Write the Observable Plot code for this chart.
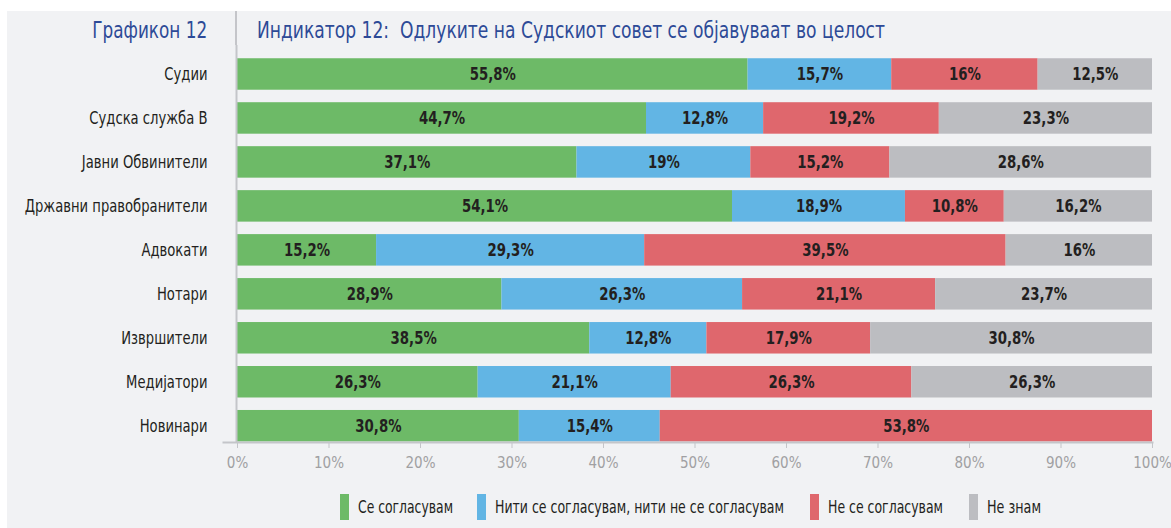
<!DOCTYPE html>
<html>
<head>
<meta charset="utf-8">
<script src="https://cdn.jsdelivr.net/npm/d3@7"></script>
<script src="https://cdn.jsdelivr.net/npm/@observablehq/plot@0.6"></script>
<style>
  html, body { margin: 0; padding: 0; }
  body { width: 1171px; height: 528px; overflow: hidden; position: relative; background: #ffffff;
         font-family: "DejaVu Sans Condensed", "DejaVu Sans", sans-serif; }
  #bg { position: absolute; left: 7px; top: 11px; right: 0; bottom: 0; background: #f1f2f4; }
  #title { position: absolute; left: 0; top: 11px; width: 1171px; height: 34px; color: #2d4a97; font-size: 23px; }
  #title .left { position: absolute; right: 964px; top: 6px; white-space: nowrap; display: inline-block; transform-origin: right center; }
  #title .sep { position: absolute; left: 235px; top: 0; width: 2px; height: 34px; background: #c4c5c9; }
  #title .main { position: absolute; left: 257px; top: 6px; white-space: nowrap; display: inline-block; transform-origin: left center; }
  #chart { position: absolute; left: 0; top: 45px; }
  #legend { position: absolute; left: 0; top: 494px; width: 1171px; height: 26px; font-size: 17px; color: #231f20; }
  #legend .item { position: absolute; top: 0; height: 26px; display: flex; align-items: center; white-space: nowrap; }
  #legend .sw { width: 9px; height: 26px; margin-right: 9px; flex: none; }
  #legend .txt { display: inline-block; transform-origin: left center; }
</style>
</head>
<body>
<div id="bg"></div>
<div id="title">
  <span class="left" id="t1">Графикон 12</span>
  <div class="sep"></div>
  <span class="main" id="t2">Индикатор 12:&nbsp; Одлуките на Судскиот совет се објавуваат во целост</span>
</div>
<div id="chart"></div>
<div id="legend"></div>
<script>
// ---- data ----
const groups = [
  "Судии",
  "Судска служба В",
  "Јавни Обвинители",
  "Државни правобранители",
  "Адвокати",
  "Нотари",
  "Извршители",
  "Медијатори",
  "Новинари"
];
const answers = [
  "Се согласувам",
  "Нити се согласувам, нити не се согласувам",
  "Не се согласувам",
  "Не знам"
];
const agree    = [55.8, 44.7, 37.1, 54.1, 15.2, 28.9, 38.5, 26.3, 30.8];
const neither  = [15.7, 12.8, 19.0, 18.9, 29.3, 26.3, 12.8, 21.1, 15.4];
const disagree = [16.0, 19.2, 15.2, 10.8, 39.5, 21.1, 17.9, 26.3, 53.8];
const dontKnow = [12.5, 23.3, 28.6, 16.2, 16.0, 23.7, 30.8, 26.3, 0];
const colors = ["#6dba67", "#62b5e4", "#df676d", "#bcbdc1"];
const xTicks = [0, 10, 20, 30, 40, 50, 60, 70, 80, 90, 100];

const series = [agree, neither, disagree, dontKnow];
const data = [];
groups.forEach((g, i) => {
  answers.forEach((a, j) => {
    data.push({group: g, answer: a, value: series[j][i]});
  });
});
const fmt = v => String(v).replace(".", ",") + "%";

const W = 1171, H = 440;
const chart = Plot.plot({
  width: W,
  height: H,
  marginLeft: 223,
  marginRight: 19,
  marginTop: 0,
  marginBottom: 43,
  style: {
    background: "transparent",
    fontFamily: '"DejaVu Sans Condensed", "DejaVu Sans", sans-serif',
    fontSize: "17px"
  },
  x: {domain: [0, 100], insetLeft: 14},
  y: {domain: groups, range: [7, 402.7], paddingInner: 0.284, paddingOuter: 0.142, round: false},
  color: {domain: answers, range: colors},
  marks: [
    Plot.barX(data, Plot.stackX({x: "value", y: "group", fill: "answer"})),
    Plot.text(data, Plot.stackX({
      filter: d => d.value > 0,
      x: "value", y: "group",
      text: d => fmt(d.value),
      fill: "#231f20",
      fontWeight: "bold",
      fontSize: 17
    })),
    Plot.ruleX([0], {stroke: "#c4c5c9", strokeWidth: 2, dx: -1}),
    Plot.frame({anchor: "bottom", stroke: "#c4c5c9", strokeWidth: 2}),
    Plot.axisX({
      ticks: xTicks,
      tickFormat: d => d + "%",
      tickSize: 6,
      tickPadding: 9,
      stroke: "#c4c5c9",
      fill: "#a0a0a2",
      fontSize: 15,
      label: null
    }),
    Plot.axisY({
      tickSize: 0,
      tickPadding: 16,
      fill: "#231f20",
      fontSize: 17,
      label: null
    })
  ]
});
document.getElementById("chart").appendChild(chart);

// condense svg text horizontally (the reference uses a condensed face)
chart.querySelectorAll("text").forEach(t => {
  const g = t.closest("g[aria-label]");
  const role = g ? g.getAttribute("aria-label") : "";
  if (role.startsWith("x-axis")) return;
  const f = role.startsWith("y-axis") ? 0.86 : 0.87;
  const L = t.getComputedTextLength();
  if (L > 0) {
    t.setAttribute("textLength", (L * f).toFixed(2));
    t.setAttribute("lengthAdjust", "spacingAndGlyphs");
  }
});

function fitWidth(el, target) {
  const w = el.getBoundingClientRect().width;
  if (w > 0) el.style.transform = `scaleX(${target / w})`;
}
fitWidth(document.getElementById("t1"), 115);
fitWidth(document.getElementById("t2"), 628);

// ---- legend ----
const legendX = [340, 477, 810, 969];
const legendW = [95, 289, 115, 54];
const legend = document.getElementById("legend");
answers.forEach((a, i) => {
  const item = document.createElement("div");
  item.className = "item";
  item.style.left = legendX[i] + "px";
  const sw = document.createElement("div");
  sw.className = "sw";
  sw.style.background = colors[i];
  const t = document.createElement("span");
  t.className = "txt";
  t.textContent = a;
  item.appendChild(sw);
  item.appendChild(t);
  legend.appendChild(item);
  fitWidth(t, legendW[i]);
});
</script>
</body>
</html>
